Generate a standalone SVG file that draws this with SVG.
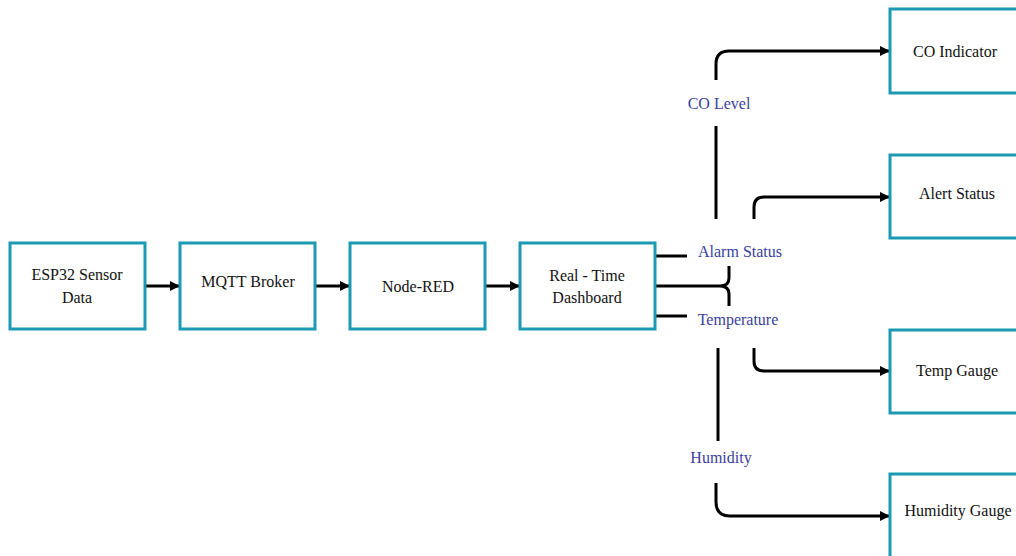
<svg xmlns="http://www.w3.org/2000/svg" width="1016" height="556" viewBox="0 0 1016 556">
<defs>
<style>
.box{fill:#fff;stroke:#1b9ab4;stroke-width:3}
.t{font-family:"Liberation Serif","Times New Roman",serif;font-size:16px;fill:#111;text-anchor:middle;dominant-baseline:central}
.lbl{font-family:"Liberation Serif","Times New Roman",serif;font-size:16px;fill:#3a3f9e;text-anchor:middle;dominant-baseline:central}
.c{fill:none;stroke:#000;stroke-width:3}
</style>
<marker id="ah" viewBox="0 0 10 10" refX="10" refY="5" markerWidth="10" markerHeight="10" markerUnits="userSpaceOnUse" orient="auto">
<path d="M0,0 L10,5 L0,10 Z" fill="#000"/>
</marker>
</defs>
<rect width="1016" height="556" fill="#fff"/>
<g id="connectors">
<path class="c" d="M145,286 H180" marker-end="url(#ah)"/>
<path class="c" d="M315,286 H350" marker-end="url(#ah)"/>
<path class="c" d="M485,286 H520" marker-end="url(#ah)"/>
<path class="c" d="M655,256 H687"/>
<path class="c" d="M655,316 H687"/>
<path class="c" d="M655,286 H720"/>
<path class="c" d="M729,266 V278 Q729,286 720,286 Q729,286 729,294 V306"/>
<path class="c" d="M716,80 V64 Q716,51 729,51 H890" marker-end="url(#ah)"/>
<path class="c" d="M716,126 V219"/>
<path class="c" d="M754,219 V207 Q754,197 764,197 H890" marker-end="url(#ah)"/>
<path class="c" d="M754,348 V361 Q754,371 764,371 H890" marker-end="url(#ah)"/>
<path class="c" d="M718,348 V441"/>
<path class="c" d="M716,483 V502 Q716,516 730,516 H890" marker-end="url(#ah)"/>
</g>
<g id="labels">
<text class="lbl" x="719" y="103">CO Level</text>
<text class="lbl" x="740" y="251">Alarm Status</text>
<text class="lbl" x="738" y="319">Temperature</text>
<text class="lbl" x="721" y="457">Humidity</text>
</g>
<g id="esp32">
<rect class="box" x="10" y="243" width="135" height="86"/>
<text class="t" x="77" y="274">ESP32 Sensor</text>
<text class="t" x="77" y="297">Data</text>
</g>
<g id="mqtt">
<rect class="box" x="180" y="243" width="135" height="86"/>
<text class="t" x="248" y="281">MQTT Broker</text>
</g>
<g id="nodered">
<rect class="box" x="350" y="243" width="135" height="86"/>
<text class="t" x="418" y="286">Node-RED</text>
</g>
<g id="dashboard">
<rect class="box" x="520" y="243" width="135" height="86"/>
<text class="t" x="587" y="275">Real - Time</text>
<text class="t" x="587" y="297">Dashboard</text>
</g>
<g id="co-indicator">
<rect class="box" x="890" y="9" width="135" height="84"/>
<text class="t" x="955" y="51">CO Indicator</text>
</g>
<g id="alert-status">
<rect class="box" x="890" y="155" width="135" height="83"/>
<text class="t" x="957" y="193">Alert Status</text>
</g>
<g id="temp-gauge">
<rect class="box" x="890" y="330" width="135" height="83"/>
<text class="t" x="957" y="370">Temp Gauge</text>
</g>
<g id="humidity-gauge">
<rect class="box" x="890" y="474" width="135" height="90"/>
<text class="t" x="958" y="510">Humidity Gauge</text>
</g>
</svg>
